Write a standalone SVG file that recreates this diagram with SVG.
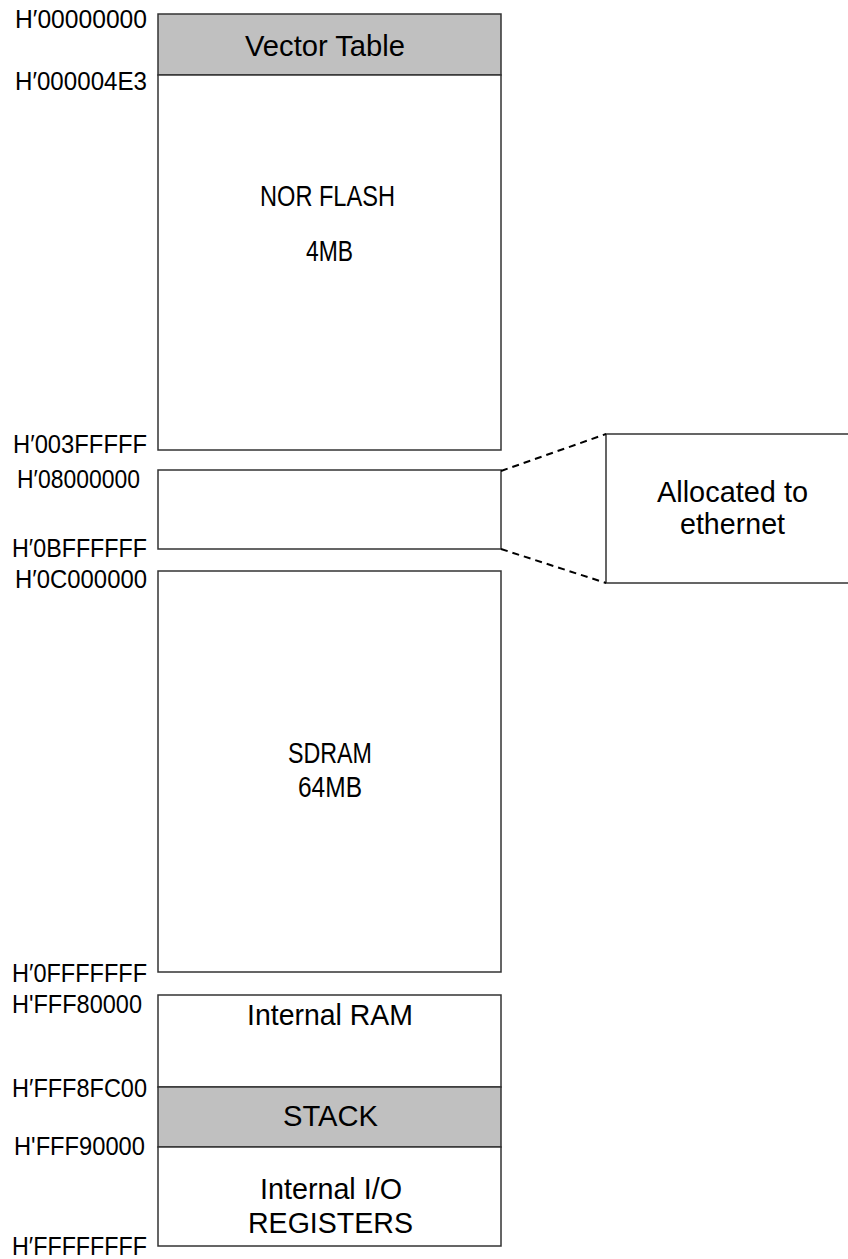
<svg xmlns="http://www.w3.org/2000/svg" width="848" height="1259" viewBox="0 0 848 1259">
<style>
.box{fill:#fff;stroke:#333;stroke-width:1.5}
.gray{fill:#c0c0c0;stroke:#333;stroke-width:1.5}
.t{font-family:"Liberation Sans",Arial,sans-serif;fill:#000;text-anchor:middle;font-size:29px}
.a{font-family:"Liberation Sans",Arial,sans-serif;fill:#000;text-anchor:end;font-size:25px}
.dash{stroke:#000;stroke-width:2;stroke-dasharray:7 5;fill:none}
</style>
<rect width="848" height="1259" fill="#fff"/>
<g id="labels">
<text class="a" x="147" y="28" font-size="20" textLength="132" lengthAdjust="spacingAndGlyphs">H′00000000</text>
<text class="a" x="147" y="90" font-size="20" textLength="132" lengthAdjust="spacingAndGlyphs">H′000004E3</text>
<text class="a" x="147" y="453" textLength="134" lengthAdjust="spacingAndGlyphs">H′003FFFFF</text>
<text class="a" x="140" y="488" textLength="123" lengthAdjust="spacingAndGlyphs">H′08000000</text>
<text class="a" x="147" y="557" textLength="135" lengthAdjust="spacingAndGlyphs">H′0BFFFFFF</text>
<text class="a" x="147" y="588" textLength="132" lengthAdjust="spacingAndGlyphs">H′0C000000</text>
<text class="a" x="147" y="982" font-size="26" textLength="135" lengthAdjust="spacingAndGlyphs">H′0FFFFFFF</text>
<text class="a" x="142" y="1013" font-size="27" textLength="130" lengthAdjust="spacingAndGlyphs">H'FFF80000</text>
<text class="a" x="147" y="1097" font-size="26" textLength="135" lengthAdjust="spacingAndGlyphs">H′FFF8FC00</text>
<text class="a" x="145" y="1155" font-size="27" textLength="131" lengthAdjust="spacingAndGlyphs">H'FFF90000</text>
<text class="a" x="147" y="1255" font-size="26" textLength="135" lengthAdjust="spacingAndGlyphs">H′FFFFFFFF</text>
</g>
<g id="vector-table">
<rect class="gray" x="158" y="14" width="343" height="61"/>
<text class="t" x="325" y="56" textLength="160" lengthAdjust="spacingAndGlyphs">Vector Table</text>
</g>
<g id="nor-flash">
<rect class="box" x="158" y="75" width="343" height="375"/>
<text class="t" x="327.5" y="206" font-size="26" textLength="135" lengthAdjust="spacingAndGlyphs">NOR FLASH</text>
<text class="t" x="329.5" y="261" font-size="26" textLength="47" lengthAdjust="spacingAndGlyphs">4MB</text>
</g>
<g id="ethernet-region">
<rect class="box" x="158" y="470" width="343" height="79"/>
</g>
<g id="sdram">
<rect class="box" x="158" y="571" width="343" height="401"/>
<text class="t" x="330" y="763" font-size="27" textLength="84" lengthAdjust="spacingAndGlyphs">SDRAM</text>
<text class="t" x="330" y="797" font-size="27" textLength="64" lengthAdjust="spacingAndGlyphs">64MB</text>
</g>
<g id="internal-ram">
<rect class="box" x="158" y="995" width="343" height="92"/>
<text class="t" x="330" y="1025" textLength="166" lengthAdjust="spacingAndGlyphs">Internal RAM</text>
</g>
<g id="stack">
<rect class="gray" x="158" y="1087" width="343" height="60"/>
<text class="t" x="330.5" y="1126" textLength="95" lengthAdjust="spacingAndGlyphs">STACK</text>
</g>
<g id="internal-io">
<rect class="box" x="158" y="1147" width="343" height="99"/>
<text class="t" x="331" y="1199" textLength="142" lengthAdjust="spacingAndGlyphs">Internal I/O</text>
<text class="t" x="330.5" y="1233" textLength="165" lengthAdjust="spacingAndGlyphs">REGISTERS</text>
</g>
<g id="ethernet-callout">
<rect class="box" x="606" y="434" width="250" height="149"/>
<text class="t" x="732.5" y="502" font-size="30" textLength="151" lengthAdjust="spacingAndGlyphs">Allocated to</text>
<text class="t" x="732.5" y="534" font-size="30" textLength="105" lengthAdjust="spacingAndGlyphs">ethernet</text>
</g>
<g id="connectors">
<line class="dash" x1="501" y1="471" x2="606" y2="434"/>
<line class="dash" x1="501" y1="549" x2="606" y2="583"/>
</g>
</svg>
